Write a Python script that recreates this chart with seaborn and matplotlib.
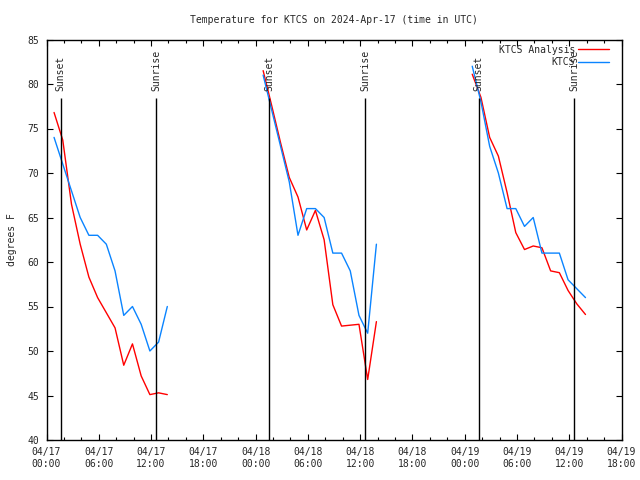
import matplotlib
matplotlib.use('Agg')
import matplotlib.pyplot as plt
import matplotlib.dates as mdates
import pandas as pd
import seaborn as sb

# hourly obs start at :52 each day, 14 obs per day
day_starts = ['2024-04-17 00:52', '2024-04-18 00:52', '2024-04-19 00:52']

ktcs_day1 = [74, 71, 68, 65, 63, 63, 62, 59, 54, 55, 53, 50, 51, 55]
ktcs_day2 = [81, 77, 73, 69, 63, 66, 66, 65, 61, 61, 59, 54, 52, 62]
ktcs_day3 = [82, 78, 73, 70, 66, 66, 64, 65, 61, 61, 61, 58, 57, 56]

analysis_day1 = [76.8, 73.7, 66.5, 62.0, 58.3, 56.0, 54.3, 52.6, 48.4, 50.8, 47.2, 45.1, 45.3, 45.1]
analysis_day2 = [81.5, 77.5, 73.4, 69.5, 67.3, 63.6, 65.8, 62.5, 55.2, 52.8, 52.9, 53.0, 46.8, 53.3]
analysis_day3 = [81.1, 78.5, 74.0, 71.9, 67.8, 63.3, 61.4, 61.8, 61.6, 59.0, 58.8, 56.8, 55.3, 54.1]

sunsets = ['2024-04-17 01:38', '2024-04-18 01:34', '2024-04-19 01:37']
sunrises = ['2024-04-17 12:34', '2024-04-18 12:36', '2024-04-19 12:35']

colors = {'KTCS Analysis': '#ff0000', 'KTCS': '#0a84ff'}

rows = []
for d, (start, ana, obs) in enumerate(zip(day_starts,
                                          [analysis_day1, analysis_day2, analysis_day3],
                                          [ktcs_day1, ktcs_day2, ktcs_day3])):
    times = pd.date_range(start, periods=len(obs), freq='h')
    for t, a, o in zip(times, ana, obs):
        rows.append({'time': t, 'temp': a, 'series': 'KTCS Analysis', 'day': d})
        rows.append({'time': t, 'temp': o, 'series': 'KTCS', 'day': d})
df = pd.DataFrame(rows)

sb.set_style('ticks')
plt.rcParams['font.family'] = ['DejaVu Sans Mono']
plt.rcParams['xtick.direction'] = 'in'
plt.rcParams['ytick.direction'] = 'in'

fig = plt.figure(figsize=(6.4, 4.8), dpi=100)
ax = fig.add_axes([46.5/640, 1 - 440/480, 575/640, 400.5/480])

sb.lineplot(data=df, x='time', y='temp', hue='series', units='day', estimator=None,
            palette=colors, hue_order=['KTCS Analysis', 'KTCS'], lw=1.0, ax=ax, legend=False)

for s in sunsets:
    t = pd.Timestamp(s)
    ax.vlines(t, 40, 78.4, color='black', lw=1.0)
    ax.text(t, 79.2, 'Sunset', rotation=90, ha='center', va='bottom', fontsize=7)
for s in sunrises:
    t = pd.Timestamp(s)
    ax.vlines(t, 40, 78.4, color='black', lw=1.0)
    ax.text(t, 79.2, 'Sunrise', rotation=90, ha='center', va='bottom', fontsize=7)

ax.set_xlim(pd.Timestamp('2024-04-17 00:00'), pd.Timestamp('2024-04-19 18:00'))
ax.set_ylim(40, 85)
ax.set_yticks(range(40, 86, 5))
ax.xaxis.set_major_locator(mdates.HourLocator(byhour=[0, 6, 12, 18]))
ax.xaxis.set_minor_locator(mdates.HourLocator(interval=2))
ax.xaxis.set_major_formatter(mdates.DateFormatter('%m/%d\n%H:%M'))
ax.tick_params(which='both', top=True, right=True, labelsize=7, color='black')
ax.tick_params(which='major', length=4, width=0.8, pad=5)
ax.tick_params(which='minor', length=2, width=0.8)
for sp in ax.spines.values():
    sp.set_color('black')
    sp.set_linewidth(1.0)

ax.set_xlabel('')
ax.set_ylabel('degrees F', fontsize=7, labelpad=8)
ax.set_title('Temperature for KTCS on 2024-Apr-17 (time in UTC)', fontsize=7, pad=12)

handles = [plt.Line2D([], [], color=colors[k], lw=1.0) for k in ['KTCS Analysis', 'KTCS']]
ax.legend(handles, ['KTCS Analysis', 'KTCS'], loc='upper right', frameon=False,
          markerfirst=False, fontsize=7, handlelength=3.2, handletextpad=0.3,
          labelspacing=0.25, borderaxespad=0.3, bbox_to_anchor=(0.99, 1.004))

fig.savefig('out.png', dpi=100)
